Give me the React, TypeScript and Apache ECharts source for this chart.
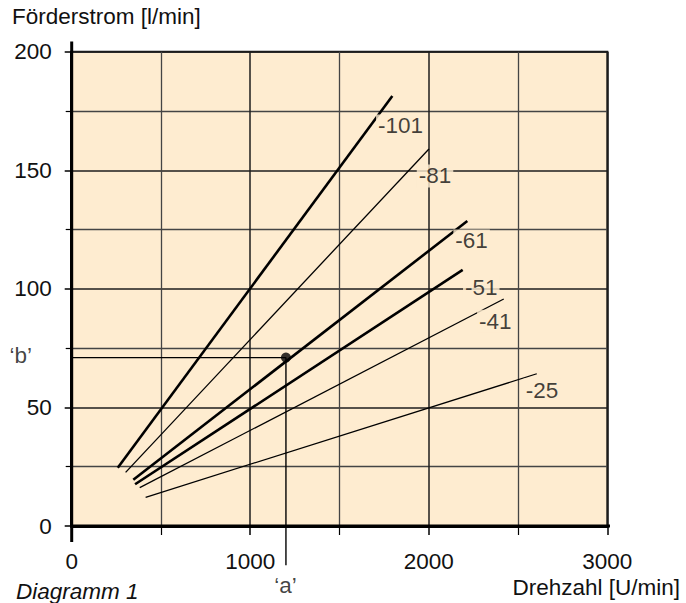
import React, { useEffect, useRef } from "react";
import * as echarts from "echarts";

// ---------- data ----------
const pumpNames = ["-101", "-81", "-61", "-51", "-41", "-25"];
const startRpm = [258, 302, 345, 355, 381, 414];
const startFlow = [24.6, 22.6, 19.5, 17.6, 16.2, 12.1];
const endRpm = [1796, 2001, 2216, 2190, 2420, 2605];
const endFlow = [181.3, 159, 128.6, 108, 95.7, 64.2];
// anchor of each pump's label (data units)
const labelRpm = [1842, 2035, 2240, 2294, 2373, 2634];
const labelFlow = [168.7, 147.6, 120.2, 100.6, 86.3, 57.3];

const xTickLabels = [0, 1000, 2000, 3000];
const yTickLabels = [0, 50, 100, 150, 200];

const pointRpm = 1200; // 'a'
const pointFlow = 71; // 'b'
const guideLeftRpm = -150;
const guideBottomFlow = -16.5;
const annotationTexts = ["‘b’", "‘a’"];
const annotationRpm = [-285, 1198];
const annotationFlow = [71.7, -24.9];

// axis-line overhang (data units)
const xAxisFrom = -84;
const xAxisTo = 3062;
const yAxisFrom = -6.7;
const yAxisTo = 204.3;

// ---------- styles ----------
const thickPumps = new Set(["-101", "-61", "-51"]);
const PEACH = "#FEECD0";
const FONT = "'Liberation Sans', Arial, Helvetica, sans-serif";
const TEXT = "#111";
const FS = 22.5;

export default function App() {
  const ref = useRef<HTMLDivElement>(null);

  useEffect(() => {
    if (!ref.current) return;
    const chart = echarts.init(ref.current, undefined, { renderer: "svg" });

    const pumpSeries = pumpNames.map((name, i) => ({
      name,
      type: "line",
      data: [
        [startRpm[i], startFlow[i]],
        [endRpm[i], endFlow[i]],
      ],
      symbol: "none",
      lineStyle: { color: "#000", width: thickPumps.has(name) ? 2.6 : 1.3 },
      z: 4,
      silent: true,
    }));

    const plainLine = (data: number[][], width: number) => ({
      type: "line",
      data,
      symbol: "none",
      clip: false,
      lineStyle: { color: "#000", width },
      z: 5,
      silent: true,
    });

    const option: any = {
      animation: false,
      title: [
        {
          text: "Förderstrom [l/min]",
          left: 12,
          top: 4.5,
          padding: 0,
          textStyle: { fontSize: FS, fontWeight: "normal", color: TEXT, fontFamily: FONT },
        },
        {
          text: "Drehzahl [U/min]",
          right: 6,
          top: 575.5,
          padding: 0,
          textStyle: { fontSize: FS, fontWeight: "normal", color: TEXT, fontFamily: FONT },
        },
        {
          text: "Diagramm 1",
          left: 16,
          top: 579.5,
          padding: 0,
          textStyle: {
            fontSize: FS,
            fontWeight: "normal",
            fontStyle: "italic",
            color: TEXT,
            fontFamily: FONT,
          },
        },
      ],
      grid: {
        left: 71.7,
        right: 78.7,
        top: 51.7,
        bottom: 77,
        show: true,
        backgroundColor: PEACH,
        borderColor: "#1a1a1a",
        borderWidth: 2,
      },
      xAxis: {
        type: "value",
        min: xTickLabels[0],
        max: xTickLabels[xTickLabels.length - 1],
        interval: 1000,
        axisLine: { show: true, onZero: false, lineStyle: { color: "#000", width: 3 } },
        axisTick: { show: true, inside: false, length: 9, lineStyle: { color: "#000", width: 1.5 } },
        minorTick: { show: true, splitNumber: 2, length: 9, lineStyle: { color: "#000", width: 1.2 } },
        splitLine: { show: true, lineStyle: { color: "#1e1e1e", width: 1.5 } },
        minorSplitLine: { show: true, lineStyle: { color: "#444", width: 1.3 } },
        axisLabel: {
          margin: 23.5,
          fontSize: FS,
          color: TEXT,
          fontFamily: FONT,
          formatter: (v: number) => (xTickLabels.includes(v) ? String(v) : ""),
        },
      },
      yAxis: {
        type: "value",
        min: yTickLabels[0],
        max: yTickLabels[yTickLabels.length - 1],
        interval: 50,
        axisLine: { show: true, onZero: false, lineStyle: { color: "#000", width: 3 } },
        axisTick: { show: true, inside: false, length: 7, lineStyle: { color: "#000", width: 1.5 } },
        minorTick: { show: true, splitNumber: 2, length: 6, lineStyle: { color: "#000", width: 1.2 } },
        splitLine: { show: true, lineStyle: { color: "#1e1e1e", width: 1.5 } },
        minorSplitLine: { show: true, lineStyle: { color: "#444", width: 1.3 } },
        axisLabel: {
          margin: 20,
          fontSize: FS,
          color: TEXT,
          fontFamily: FONT,
          padding: [0, 0, 6, 0],
          formatter: (v: number) => (yTickLabels.includes(v) ? String(v) : ""),
        },
      },
      series: [
        ...pumpSeries,
        plainLine(
          [
            [guideLeftRpm, pointFlow],
            [pointRpm, pointFlow],
          ],
          1.4
        ),
        plainLine(
          [
            [pointRpm, pointFlow],
            [pointRpm, guideBottomFlow],
          ],
          1.4
        ),
        plainLine(
          [
            [xAxisFrom, 0],
            [xAxisTo, 0],
          ],
          3
        ),
        plainLine(
          [
            [0, yAxisFrom],
            [0, yAxisTo],
          ],
          3
        ),
        {
          type: "scatter",
          data: [[pointRpm, pointFlow]],
          symbol: "circle",
          symbolSize: 10,
          itemStyle: { color: "#000" },
          z: 6,
          silent: true,
        },
        {
          type: "scatter",
          data: pumpNames.map((n, i) => ({ value: [labelRpm[i], labelFlow[i]], name: n })),
          symbolSize: 1,
          itemStyle: { color: "rgba(0,0,0,0)" },
          clip: false,
          z: 7,
          silent: true,
          label: {
            show: true,
            position: "inside",
            formatter: (p: any) => p.name,
            fontSize: FS,
            color: TEXT,
            fontFamily: FONT,
            backgroundColor: PEACH,
            padding: [0, 2],
          },
        },
        {
          type: "scatter",
          data: annotationTexts.map((t, i) => ({ value: [annotationRpm[i], annotationFlow[i]], name: t })),
          symbolSize: 1,
          itemStyle: { color: "rgba(0,0,0,0)" },
          clip: false,
          z: 7,
          silent: true,
          label: {
            show: true,
            position: "inside",
            formatter: (p: any) => p.name,
            fontSize: FS,
            color: TEXT,
            fontFamily: FONT,
          },
        },
      ],
    };

    chart.setOption(option);
    return () => chart.dispose();
  }, []);

  return (
    <div
      ref={ref}
      style={{ position: "fixed", left: 0, top: 0, width: 686, height: 603, background: "#fff" }}
    />
  );
}
